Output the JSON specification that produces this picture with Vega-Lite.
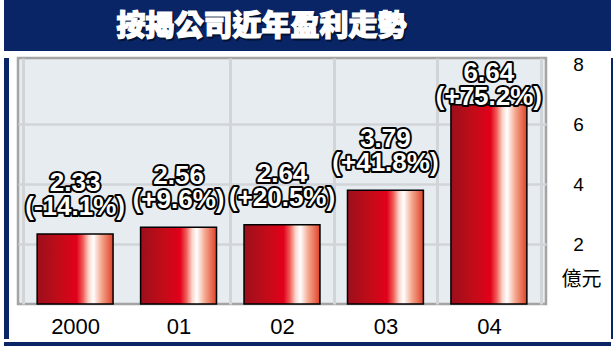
{
  "$schema": "https://vega.github.io/schema/vega-lite/v6.json",
  "background": "white",
  "padding": {"left": 3, "right": 3, "top": 0, "bottom": 3},
  "spacing": 2,
  "datasets": {
    "title": [{"t": "按揭公司近年盈利走勢"}],
    "blank": [{"k": 1}],
    "profit": [
      {"year": "2000", "value": 2.33, "pct": "-14.1%"},
      {"year": "01", "value": 2.56, "pct": "+9.6%"},
      {"year": "02", "value": 2.64, "pct": "+20.5%"},
      {"year": "03", "value": 3.79, "pct": "+41.8%"},
      {"year": "04", "value": 6.64, "pct": "+75.2%"}
    ]
  },
  "config": {"view": {"stroke": null}},
  "vconcat": [
    {
      "width": 607,
      "height": 51,
      "view": {"fill": "#0a2566", "stroke": null},
      "data": {"name": "title"},
      "layer": [
        {
          "mark": {"type": "text", "font": "Noto Sans CJK TC", "fontWeight": 900, "fontSize": 29, "color": "#000000", "stroke": "#000000", "strokeWidth": 1.2, "opacity": 0.5, "dx": -44.5, "dy": 3, "baseline": "middle", "align": "center"},
          "encoding": {"text": {"field": "t"}}
        },
        {
          "mark": {"type": "text", "font": "Noto Sans CJK TC", "fontWeight": 900, "fontSize": 29, "color": "#ffffff", "stroke": "#ffffff", "strokeWidth": 1.2, "dx": -46, "dy": 1.5, "baseline": "middle", "align": "center"},
          "encoding": {"text": {"field": "t"}}
        }
      ]
    },
    {
      "spacing": 7,
      "hconcat": [
        {
          "width": 5,
          "height": 281,
          "view": {"fill": "#0a2566", "stroke": null},
          "data": {"name": "blank"},
          "mark": {"type": "rule", "opacity": 0},
          "encoding": {}
        },
        {
          "width": 528,
          "height": 246,
          "view": {"fill": "#e7ecf0", "stroke": "#a4a4a4", "strokeWidth": 2.5},
          "data": {"name": "profit"},
          "transform": [
            {"calculate": "[format(datum.value, '.2f'), '(' + datum.pct + ')']", "as": "label"},
            {"calculate": "min(datum.value, 6)", "as": "labelY"}
          ],
          "layer": [
            {
              "mark": {
                "type": "bar",
                "width": {"band": 0.734},
                "stroke": "#000000",
                "strokeWidth": 1.5,
                "fill": {
                  "gradient": "linear",
                  "x1": 0, "x2": 1, "y1": 0, "y2": 0,
                  "stops": [
                    {"offset": 0, "color": "#9c0f1c"},
                    {"offset": 0.3, "color": "#c20c18"},
                    {"offset": 0.52, "color": "#e2001a"},
                    {"offset": 0.6, "color": "#ee5a55"},
                    {"offset": 0.68, "color": "#fbd6cc"},
                    {"offset": 0.74, "color": "#ffffff"},
                    {"offset": 0.85, "color": "#f4a58c"},
                    {"offset": 1, "color": "#de4228"}
                  ]
                }
              },
              "encoding": {
                "x": {
                  "field": "year", "type": "nominal", "sort": null,
                  "scale": {"paddingInner": 0, "paddingOuter": 0.052},
                  "axis": {
                    "orient": "bottom", "title": null, "domain": false, "ticks": false, "tickSize": 0,
                    "labelAngle": 0, "labelFont": "Liberation Sans Narrow, Liberation Sans, Arial, sans-serif", "labelFontSize": 22,
                    "labelColor": "#000000", "labelPadding": 12,
                    "grid": true, "gridColor": "#d2d5d8", "gridWidth": 3, "tickBand": "extent",
                    "gridOpacity": {"condition": {"test": "datum.value === '2000'", "value": 0}, "value": 1}
                  }
                },
                "y": {
                  "field": "value", "type": "quantitative",
                  "scale": {"domain": [0, 8.2], "nice": false},
                  "axis": {
                    "orient": "right", "values": [2, 4, 6, 8],
                    "title": "億元", "titleAngle": 0, "titleX": 35, "titleY": 221,
                    "titleAlign": "center", "titleBaseline": "middle",
                    "titleFont": "Noto Sans CJK TC", "titleFontSize": 20, "titleFontWeight": "normal", "titleColor": "#000000",
                    "domain": false, "ticks": false, "tickSize": 0,
                    "labelPadding": 32, "labelAlign": "center",
                    "labelFont": "Liberation Sans, Arial, sans-serif", "labelFontSize": 19, "labelColor": "#000000",
                    "grid": true, "gridColor": "#d2d5d8", "gridWidth": 2.5,
                    "gridOpacity": {"condition": {"test": "datum.value === 8", "value": 0}, "value": 1}
                  }
                }
              }
            },
            {
              "mark": {"type": "text", "font": "Liberation Sans", "fontWeight": "bold", "fontSize": 26, "lineHeight": 24, "baseline": "bottom", "align": "center", "dy": -38, "fill": "#000000", "stroke": "#000000", "strokeWidth": 4, "strokeJoin": "round"},
              "encoding": {
                "x": {"field": "year", "type": "nominal", "sort": null},
                "y": {"field": "labelY", "type": "quantitative"},
                "text": {"field": "label"}
              }
            },
            {
              "mark": {"type": "text", "font": "Liberation Sans", "fontWeight": "bold", "fontSize": 26, "lineHeight": 24, "baseline": "bottom", "align": "center", "dy": -38, "fill": "#ffffff"},
              "encoding": {
                "x": {"field": "year", "type": "nominal", "sort": null},
                "y": {"field": "labelY", "type": "quantitative"},
                "text": {"field": "label"}
              }
            }
          ]
        },
        {
          "width": 5,
          "height": 281,
          "view": {"fill": "#0a2566", "stroke": null},
          "data": {"name": "blank"},
          "mark": {"type": "rule", "opacity": 0},
          "encoding": {}
        }
      ]
    },
    {
      "width": 607,
      "height": 5,
      "view": {"fill": "#0a2566", "stroke": null},
      "data": {"name": "blank"},
      "mark": {"type": "rule", "opacity": 0},
      "encoding": {}
    }
  ]
}
